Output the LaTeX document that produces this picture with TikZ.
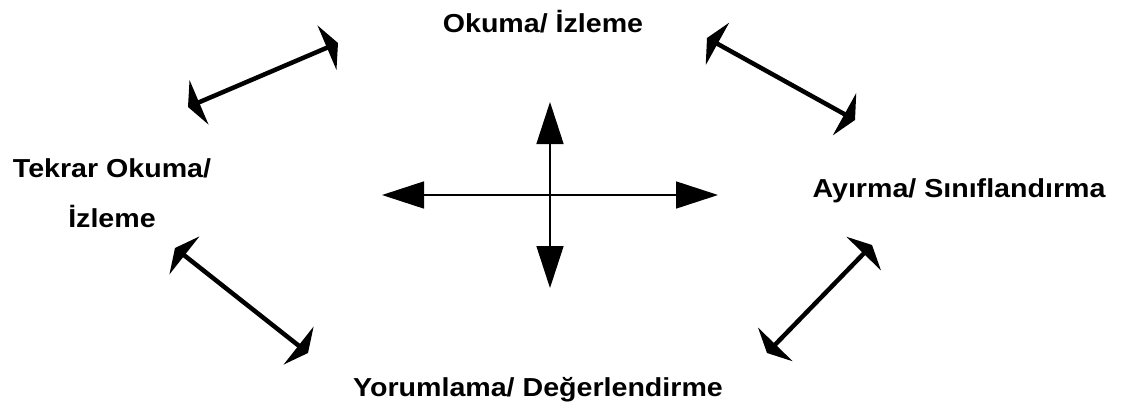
\documentclass[tikz,border=0pt]{standalone}
\usepackage{fontspec}
\setmainfont{Liberation Sans}[FakeStretch=1.1]
\usetikzlibrary{arrows.meta}
\tikzset{
    steplabel/.style = {align=center,font=\bfseries\fontsize{26}{50}\selectfont,text=black,inner sep=0pt},
    edgew/.style = {{Triangle[length=12pt,width=48pt]}-{Triangle[length=12pt,width=48pt]},line width=4.5pt,black},
    edgec/.style = {{Triangle[length=42pt,width=27pt]}-{Triangle[length=42pt,width=27pt]},line width=1.6pt,black}
}
\begin{document}
\begin{tikzpicture}[x=1pt,y=-1pt]
  \useasboundingbox (0,0) rectangle (1125,413);
  % the four steps
  \node[steplabel,anchor=base] (oku) at (543,32) {Okuma/ İzleme};
  \node[steplabel,anchor=base] (ayir) at (959,197) {Ayırma/ Sınıflandırma};
  \node[steplabel,anchor=base] (yor) at (538,396) {Yorumlama/ Değerlendirme};
  \node[steplabel,anchor=base] (tek) at (112,227) {Tekrar Okuma/\\İzleme};
  % arrow ends
  \coordinate (tl1) at (188,107);
  \coordinate (tl2) at (338,43);
  \coordinate (tr1) at (707,38);
  \coordinate (tr2) at (855,120);
  \coordinate (bl1) at (175,248);
  \coordinate (bl2) at (308,353);
  \coordinate (br1) at (872,245);
  \coordinate (br2) at (767,353);
  \coordinate (cw) at (382,195);
  \coordinate (ce) at (718,195);
  \coordinate (cn) at (550,102);
  \coordinate (cs) at (550,288);
  \draw[edgew] (tl1) -- (tl2);
  \draw[edgew] (tr1) -- (tr2);
  \draw[edgew] (bl1) -- (bl2);
  \draw[edgew] (br1) -- (br2);
  % centre cross
  \draw[edgec] (cw) -- (ce);
  \draw[edgec] (cn) -- (cs);
\end{tikzpicture}
\end{document}
